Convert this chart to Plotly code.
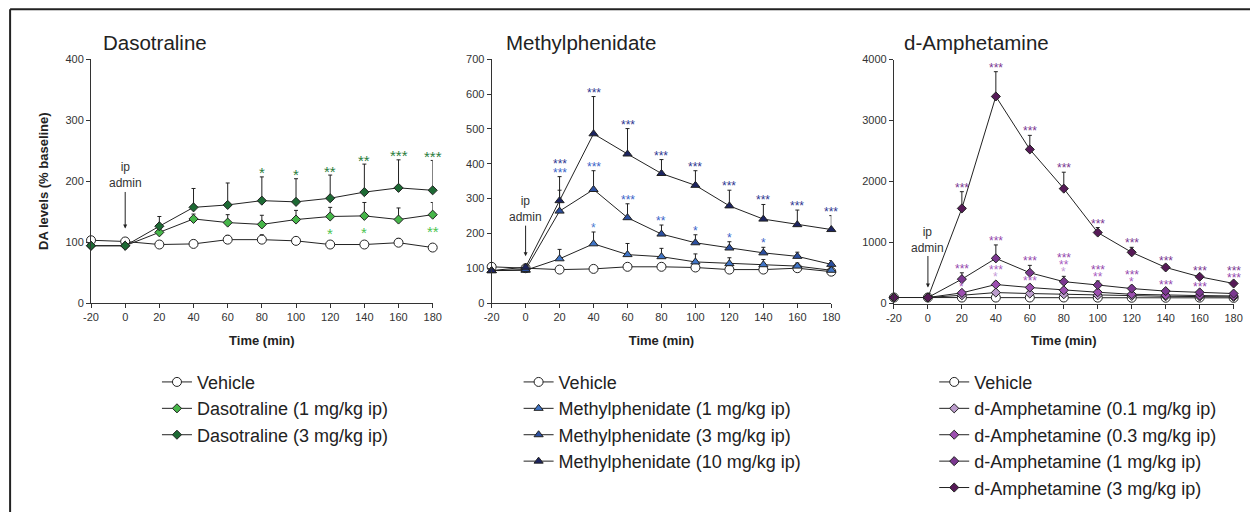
import plotly.graph_objects as go

# ---------------- data ----------------
time = [-20, 0, 20, 40, 60, 80, 100, 120, 140, 160, 180]
x_ticks = [-20, 0, 20, 40, 60, 80, 100, 120, 140, 160, 180]

# Dasotraline panel
daso_vehicle = [103, 101, 96, 97, 104, 104, 102, 96, 96, 99, 91]
daso_vehicle_err = [4, 4, 5, 6, 7, 8, 6, 5, 5, 7, 5]
daso_1 = [94, 94, 116, 138, 132, 129, 137, 142, 143, 137, 145]
daso_1_err = [3, 3, 8, 8, 13, 15, 15, 15, 22, 19, 20]
daso_3 = [94, 94, 126, 157, 161, 168, 166, 172, 182, 189, 185]
daso_3_err = [3, 4, 16, 31, 36, 39, 38, 38, 46, 46, 49]

# Methylphenidate panel
mph_vehicle = [104, 100, 96, 98, 104, 104, 102, 96, 96, 100, 90]
mph_vehicle_err = [5, 5, 4, 4, 6, 6, 5, 5, 5, 6, 5]
mph_1 = [93, 94, 127, 170, 139, 133, 118, 113, 110, 106, 94]
mph_1_err = [4, 5, 27, 34, 32, 24, 23, 17, 15, 9, 6]
mph_3 = [93, 96, 264, 326, 245, 198, 173, 158, 144, 134, 111]
mph_3_err = [4, 6, 60, 54, 40, 26, 23, 18, 16, 12, 11]
mph_10 = [93, 103, 294, 486, 428, 372, 338, 279, 241, 225, 211]
mph_10_err = [4, 6, 69, 107, 73, 40, 42, 45, 42, 42, 40]

# d-Amphetamine panel
amph_vehicle = [100, 100, 99, 99, 100, 100, 98, 96, 96, 98, 94]
amph_vehicle_err = [8, 8, 10, 12, 12, 12, 10, 10, 10, 10, 10]
amph_01 = [100, 100, 137, 181, 165, 153, 137, 126, 120, 115, 110]
amph_01_err = [10, 10, 20, 30, 25, 25, 20, 18, 15, 15, 12]
amph_03 = [100, 100, 176, 313, 264, 219, 186, 153, 137, 132, 126]
amph_03_err = [10, 10, 30, 50, 45, 40, 35, 28, 25, 22, 20]
amph_1 = [100, 100, 401, 742, 506, 360, 305, 247, 205, 184, 165]
amph_1_err = [10, 10, 104, 220, 121, 87, 66, 40, 30, 25, 22]
amph_3 = [100, 100, 1561, 3396, 2528, 1885, 1165, 841, 593, 440, 330]
amph_3_err = [10, 10, 274, 406, 230, 269, 82, 82, 40, 27, 20]

# significance labels: (time, label, series, anchor series, stack row; -1 = below marker)
daso_stars = [
    (80, "*", "d3", "d3", 0), (100, "*", "d3", "d3", 0), (120, "**", "d3", "d3", 0),
    (140, "**", "d3", "d3", 0), (160, "***", "d3", "d3", 0), (180, "***", "d3", "d3", 0),
    (120, "*", "d1", "d1", -1), (140, "*", "d1", "d1", -1), (180, "**", "d1", "d1", -1),
]
mph_stars = [
    (20, "***", "m3", "m10", 0), (20, "***", "m10", "m10", 1),
    (40, "***", "m10", "m10", 0), (60, "***", "m10", "m10", 0), (80, "***", "m10", "m10", 0),
    (100, "***", "m10", "m10", 0), (120, "***", "m10", "m10", 0), (140, "***", "m10", "m10", 0),
    (160, "***", "m10", "m10", 0), (180, "***", "m10", "m10", 0),
    (40, "***", "m3", "m3", 0), (60, "***", "m3", "m3", 0), (80, "**", "m3", "m3", 0),
    (100, "*", "m3", "m3", 0), (120, "*", "m3", "m3", 0), (140, "*", "m3", "m3", 0),
    (40, "*", "m1", "m1", 0),
]
amph_stars = [
    (20, "***", "a3", "a3", 0), (40, "***", "a3", "a3", 0), (60, "***", "a3", "a3", 0),
    (80, "***", "a3", "a3", 0), (100, "***", "a3", "a3", 0), (120, "***", "a3", "a3", 0),
    (140, "***", "a3", "a3", 0), (160, "***", "a3", "a3", 0), (180, "***", "a3", "a3", 1),
    (20, "***", "a1", "a1", 0), (40, "***", "a1", "a1", 0), (60, "***", "a1", "a1", 0),
    (80, "***", "a1", "a1", 2), (100, "***", "a1", "a1", 1), (120, "***", "a1", "a1", 1),
    (140, "***", "a1", "a1", 0), (160, "***", "a1", "a1", 0), (180, "***", "a1", "a3", 0),
    (20, "*", "a03", "a03", 0), (40, "***", "a03", "a03", 1), (60, "***", "a03", "a03", 0),
    (80, "**", "a03", "a1", 1), (100, "**", "a03", "a1", 0), (120, "*", "a03", "a1", 0),
    (40, "*", "a01", "a03", 0), (80, "*", "a01", "a1", 0),
]

# ---------------- styling / layout ----------------
# Layout positions below are given in photographed-picture pixels; they are mapped to
# figure pixels allowing for the page's default body margin and the photo scaling.
W, H = 1259, 518
SX, SY, BODY = 1259 / 1275, 518 / 534, 8
FONT = "Liberation Sans, Arial, Helvetica, sans-serif"
INK = "#222222"
AX = "#333333"


def px(x):
    return (x / SX - BODY) / W


def py(y):
    return 1 - (y / SY - BODY) / H


panels = [
    dict(
        xa="x", ya="y", xdom=(91, 433), ydom=(60.7, 302.7), ymax=400, dtick=100,
        title="Dasotraline", title_x=100.5, legend="legend", leg_x=157,
        star_size=15, row_gap=8, arrow_ay=-66, arrow_standoff=13,
        series=[
            ("v", "Vehicle", daso_vehicle, daso_vehicle_err, "circle", "white", 9, None),
            ("d1", "Dasotraline (1 mg/kg ip)", daso_1, daso_1_err, "diamond", "#46b649", 7, "#4cc44f"),
            ("d3", "Dasotraline (3 mg/kg ip)", daso_3, daso_3_err, "diamond", "#1d6a34", 7, "#2a7d3c"),
        ],
        stars=daso_stars,
    ),
    dict(
        xa="x2", ya="y2", xdom=(492, 832), ydom=(60.7, 302.7), ymax=700, dtick=100,
        title="Methylphenidate", title_x=504.5, legend="legend2", leg_x=519,
        star_size=12, row_gap=9, arrow_ay=-58, arrow_standoff=11,
        series=[
            ("v", "Vehicle", mph_vehicle, mph_vehicle_err, "circle", "white", 9, None),
            ("m1", "Methylphenidate (1 mg/kg ip)", mph_1, mph_1_err, "triangle-up", "#3f74c6", 8, "#4a7ad0"),
            ("m3", "Methylphenidate (3 mg/kg ip)", mph_3, mph_3_err, "triangle-up", "#2b4f9f", 8, "#3a62c8"),
            ("m10", "Methylphenidate (10 mg/kg ip)", mph_10, mph_10_err, "triangle-up", "#1c2460", 8, "#2e3590"),
        ],
        stars=mph_stars,
    ),
    dict(
        xa="x3", ya="y3", xdom=(894.7, 1234.7), ydom=(61, 303.3), ymax=4000, dtick=1000,
        title="d-Amphetamine", title_x=902.5, legend="legend3", leg_x=935,
        star_size=12, row_gap=7, arrow_ay=-58, arrow_standoff=10,
        series=[
            ("v", "Vehicle", amph_vehicle, amph_vehicle_err, "circle", "white", 9, None),
            ("a01", "d-Amphetamine (0.1 mg/kg ip)", amph_01, amph_01_err, "diamond", "#bb9ccc", 7, "#c49bd6"),
            ("a03", "d-Amphetamine (0.3 mg/kg ip)", amph_03, amph_03_err, "diamond", "#9c4fb0", 7, "#a85cc0"),
            ("a1", "d-Amphetamine (1 mg/kg ip)", amph_1, amph_1_err, "diamond", "#7b3790", 7, "#9446ac"),
            ("a3", "d-Amphetamine (3 mg/kg ip)", amph_3, amph_3_err, "diamond", "#561a57", 7, "#7a3590"),
        ],
        stars=amph_stars,
    ),
]

fig = go.Figure()
annotations = []
layout = {}

for i, p in enumerate(panels):
    lookup = {}
    for key, name, vals, errs, sym, col, size, star_col in p["series"]:
        lookup[key] = (vals, errs, star_col)
        fig.add_trace(go.Scatter(
            x=time, y=vals, name=name, mode="lines+markers",
            xaxis=p["xa"], yaxis=p["ya"], legend=p["legend"],
            line=dict(color=INK, width=1),
            marker=dict(symbol=sym, size=size, color=col, line=dict(color=INK, width=1)),
            error_y=dict(type="data", symmetric=False, array=errs, arrayminus=[0] * len(errs),
                         color=INK, thickness=1, width=2),
            cliponaxis=False,
        ))

    # significance asterisks
    for t, label, skey, akey, row in p["stars"]:
        idx = time.index(t)
        avals, aerrs, _ = lookup[akey]
        color = lookup[skey][2]
        if row < 0:
            yv = avals[idx]
            shift = -17
        else:
            yv = avals[idx] + aerrs[idx]
            shift = 4 + row * p["row_gap"]
        annotations.append(dict(
            x=t, y=yv, xref=p["xa"], yref=p["ya"], text=label, showarrow=False,
            yshift=shift, xanchor="center", yanchor="middle",
            font=dict(family=FONT, size=p["star_size"], color=color),
        ))

    # ip admin arrow
    v0 = max(lookup[k][0][time.index(0)] for k in lookup)
    annotations.append(dict(
        x=0, y=v0, xref=p["xa"], yref=p["ya"], text="ip<br>admin",
        showarrow=True, arrowhead=2, arrowsize=0.8, arrowwidth=1, arrowcolor=INK,
        ax=0, ay=p["arrow_ay"], standoff=p["arrow_standoff"],
        font=dict(family=FONT, size=12, color=AX),
    ))

    # panel title
    annotations.append(dict(
        x=px(p["title_x"]), y=py(44), xref="paper", yref="paper", text=p["title"],
        showarrow=False, xanchor="left", yanchor="middle",
        font=dict(family=FONT, size=20.5, color=INK),
    ))

    sfx = "" if i == 0 else str(i + 1)
    layout["xaxis" + sfx] = dict(
        domain=[px(p["xdom"][0]), px(p["xdom"][1])], range=[-20, 180],
        tickmode="array", tickvals=x_ticks, ticktext=[str(v) for v in x_ticks],
        ticks="outside", ticklen=4, tickcolor=AX, showline=True, linecolor=AX, linewidth=1,
        showgrid=False, zeroline=False, anchor="y" + sfx,
        tickfont=dict(family=FONT, size=11, color=AX),
        title=dict(text="Time (min)", standoff=13,
                   font=dict(family=FONT, size=13, color=INK, weight="bold")),
    )
    layout["yaxis" + sfx] = dict(
        domain=[py(p["ydom"][1]), py(p["ydom"][0])], range=[0, p["ymax"]], dtick=p["dtick"],
        ticks="outside", ticklen=4, tickcolor=AX, showline=True, linecolor=AX, linewidth=1,
        showgrid=False, zeroline=False, anchor="x" + sfx,
        tickfont=dict(family=FONT, size=11, color=AX),
    )
    layout[p["legend"]] = dict(
        x=px(p["leg_x"]), y=py(363), xanchor="left", yanchor="top",
        bgcolor="rgba(0,0,0,0)", borderwidth=0, tracegroupgap=0,
        font=dict(family=FONT, size=18, color=INK),
    )

layout["yaxis"]["title"] = dict(
    text="DA levels (% baseline)", standoff=13.5,
    font=dict(family=FONT, size=13, color=INK, weight="bold"),
)

fig.update_layout(
    width=W, height=H, margin=dict(l=0, r=0, t=0, b=0),
    paper_bgcolor="white", plot_bgcolor="white",
    font=dict(family=FONT, color=INK),
    annotations=annotations,
    shapes=[
        dict(type="line", xref="paper", yref="paper", x0=px(10), x1=1, y0=py(11), y1=py(11),
             line=dict(color=INK, width=2)),
        dict(type="line", xref="paper", yref="paper", x0=px(10), x1=px(10), y0=py(11), y1=0,
             line=dict(color=INK, width=2)),
    ],
    showlegend=True,
    **layout,
)

fig.write_html("out.html")
